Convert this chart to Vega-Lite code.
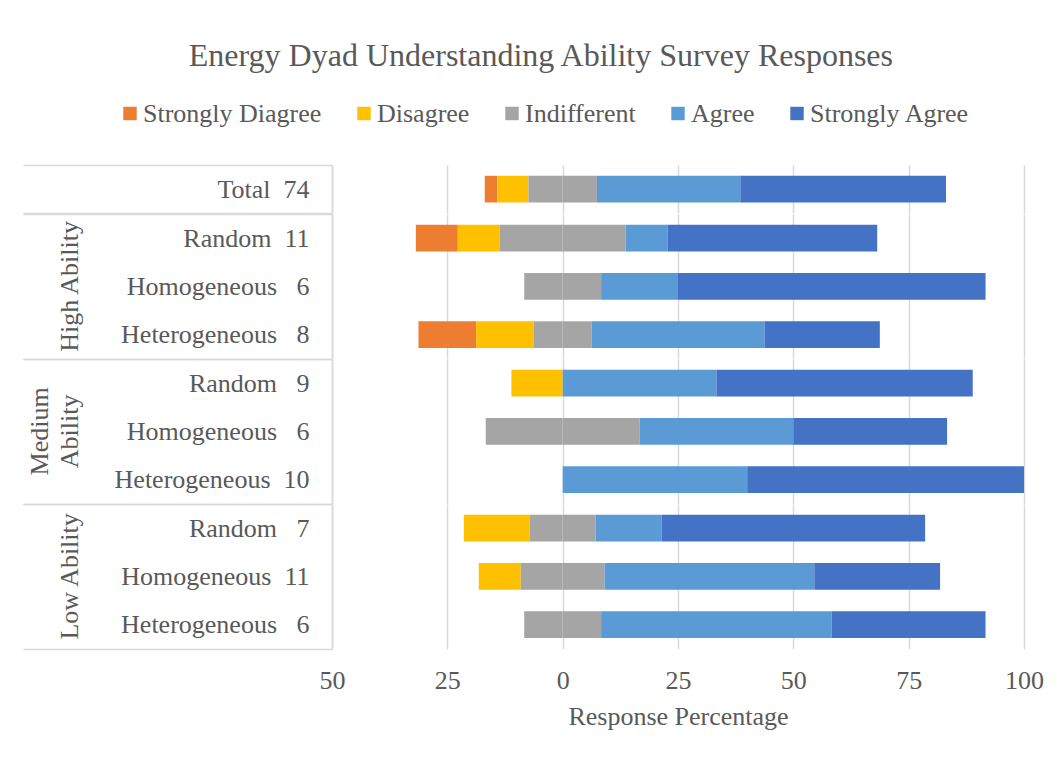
{
  "$schema": "https://vega.github.io/schema/vega-lite/v6.json",
  "padding": {"left": 22, "top": 39, "right": 20, "bottom": 20},
  "bounds": "flush",
  "title": {"text": "Energy Dyad Understanding Ability Survey Responses", "font": "Liberation Serif", "fontSize": 32, "fontWeight": "normal", "color": "#595959", "anchor": "middle", "frame": "bounds", "offset": 28, "dx": 8},
  "data": {"values": [
    {"group": "Total", "label": "Total\u00a0\u00a074", "rank": 1, "response": "Strongly Diagree", "pct": -2.70, "ord": 3},
    {"group": "Total", "label": "Total\u00a0\u00a074", "rank": 1, "response": "Disagree", "pct": -6.76, "ord": 2},
    {"group": "Total", "label": "Total\u00a0\u00a074", "rank": 1, "response": "Indifferent", "pct": -7.43, "ord": 1},
    {"group": "Total", "label": "Total\u00a0\u00a074", "rank": 1, "response": "Indifferent", "pct": 7.43, "ord": 1},
    {"group": "Total", "label": "Total\u00a0\u00a074", "rank": 1, "response": "Agree", "pct": 31.08, "ord": 2},
    {"group": "Total", "label": "Total\u00a0\u00a074", "rank": 1, "response": "Strongly Agree", "pct": 44.59, "ord": 3},

    {"group": "High Ability", "label": "Random\u00a0\u00a011", "rank": 1, "response": "Strongly Diagree", "pct": -9.09, "ord": 3},
    {"group": "High Ability", "label": "Random\u00a0\u00a011", "rank": 1, "response": "Disagree", "pct": -9.09, "ord": 2},
    {"group": "High Ability", "label": "Random\u00a0\u00a011", "rank": 1, "response": "Indifferent", "pct": -13.64, "ord": 1},
    {"group": "High Ability", "label": "Random\u00a0\u00a011", "rank": 1, "response": "Indifferent", "pct": 13.64, "ord": 1},
    {"group": "High Ability", "label": "Random\u00a0\u00a011", "rank": 1, "response": "Agree", "pct": 9.09, "ord": 2},
    {"group": "High Ability", "label": "Random\u00a0\u00a011", "rank": 1, "response": "Strongly Agree", "pct": 45.45, "ord": 3},
    {"group": "High Ability", "label": "Homogeneous\u00a0\u00a0\u00a06", "rank": 2, "response": "Indifferent", "pct": -8.33, "ord": 1},
    {"group": "High Ability", "label": "Homogeneous\u00a0\u00a0\u00a06", "rank": 2, "response": "Indifferent", "pct": 8.33, "ord": 1},
    {"group": "High Ability", "label": "Homogeneous\u00a0\u00a0\u00a06", "rank": 2, "response": "Agree", "pct": 16.67, "ord": 2},
    {"group": "High Ability", "label": "Homogeneous\u00a0\u00a0\u00a06", "rank": 2, "response": "Strongly Agree", "pct": 66.67, "ord": 3},
    {"group": "High Ability", "label": "Heterogeneous\u00a0\u00a0\u00a08", "rank": 3, "response": "Strongly Diagree", "pct": -12.5, "ord": 3},
    {"group": "High Ability", "label": "Heterogeneous\u00a0\u00a0\u00a08", "rank": 3, "response": "Disagree", "pct": -12.5, "ord": 2},
    {"group": "High Ability", "label": "Heterogeneous\u00a0\u00a0\u00a08", "rank": 3, "response": "Indifferent", "pct": -6.25, "ord": 1},
    {"group": "High Ability", "label": "Heterogeneous\u00a0\u00a0\u00a08", "rank": 3, "response": "Indifferent", "pct": 6.25, "ord": 1},
    {"group": "High Ability", "label": "Heterogeneous\u00a0\u00a0\u00a08", "rank": 3, "response": "Agree", "pct": 37.5, "ord": 2},
    {"group": "High Ability", "label": "Heterogeneous\u00a0\u00a0\u00a08", "rank": 3, "response": "Strongly Agree", "pct": 25.0, "ord": 3},

    {"group": "Medium Ability", "label": "Random\u00a0\u00a0\u00a09", "rank": 1, "response": "Disagree", "pct": -11.11, "ord": 2},
    {"group": "Medium Ability", "label": "Random\u00a0\u00a0\u00a09", "rank": 1, "response": "Agree", "pct": 33.33, "ord": 2},
    {"group": "Medium Ability", "label": "Random\u00a0\u00a0\u00a09", "rank": 1, "response": "Strongly Agree", "pct": 55.56, "ord": 3},
    {"group": "Medium Ability", "label": "Homogeneous\u00a0\u00a0\u00a06", "rank": 2, "response": "Indifferent", "pct": -16.67, "ord": 1},
    {"group": "Medium Ability", "label": "Homogeneous\u00a0\u00a0\u00a06", "rank": 2, "response": "Indifferent", "pct": 16.67, "ord": 1},
    {"group": "Medium Ability", "label": "Homogeneous\u00a0\u00a0\u00a06", "rank": 2, "response": "Agree", "pct": 33.33, "ord": 2},
    {"group": "Medium Ability", "label": "Homogeneous\u00a0\u00a0\u00a06", "rank": 2, "response": "Strongly Agree", "pct": 33.33, "ord": 3},
    {"group": "Medium Ability", "label": "Heterogeneous\u00a0\u00a010", "rank": 3, "response": "Agree", "pct": 40.0, "ord": 2},
    {"group": "Medium Ability", "label": "Heterogeneous\u00a0\u00a010", "rank": 3, "response": "Strongly Agree", "pct": 60.0, "ord": 3},

    {"group": "Low Ability", "label": "Random\u00a0\u00a0\u00a07", "rank": 1, "response": "Disagree", "pct": -14.29, "ord": 2},
    {"group": "Low Ability", "label": "Random\u00a0\u00a0\u00a07", "rank": 1, "response": "Indifferent", "pct": -7.14, "ord": 1},
    {"group": "Low Ability", "label": "Random\u00a0\u00a0\u00a07", "rank": 1, "response": "Indifferent", "pct": 7.14, "ord": 1},
    {"group": "Low Ability", "label": "Random\u00a0\u00a0\u00a07", "rank": 1, "response": "Agree", "pct": 14.29, "ord": 2},
    {"group": "Low Ability", "label": "Random\u00a0\u00a0\u00a07", "rank": 1, "response": "Strongly Agree", "pct": 57.14, "ord": 3},
    {"group": "Low Ability", "label": "Homogeneous\u00a0\u00a011", "rank": 2, "response": "Disagree", "pct": -9.09, "ord": 2},
    {"group": "Low Ability", "label": "Homogeneous\u00a0\u00a011", "rank": 2, "response": "Indifferent", "pct": -9.09, "ord": 1},
    {"group": "Low Ability", "label": "Homogeneous\u00a0\u00a011", "rank": 2, "response": "Indifferent", "pct": 9.09, "ord": 1},
    {"group": "Low Ability", "label": "Homogeneous\u00a0\u00a011", "rank": 2, "response": "Agree", "pct": 45.45, "ord": 2},
    {"group": "Low Ability", "label": "Homogeneous\u00a0\u00a011", "rank": 2, "response": "Strongly Agree", "pct": 27.27, "ord": 3},
    {"group": "Low Ability", "label": "Heterogeneous\u00a0\u00a0\u00a06", "rank": 3, "response": "Indifferent", "pct": -8.33, "ord": 1},
    {"group": "Low Ability", "label": "Heterogeneous\u00a0\u00a0\u00a06", "rank": 3, "response": "Indifferent", "pct": 8.33, "ord": 1},
    {"group": "Low Ability", "label": "Heterogeneous\u00a0\u00a0\u00a06", "rank": 3, "response": "Agree", "pct": 50.0, "ord": 2},
    {"group": "Low Ability", "label": "Heterogeneous\u00a0\u00a0\u00a06", "rank": 3, "response": "Strongly Agree", "pct": 33.33, "ord": 3}
  ]},
  "facet": {
    "row": {
      "field": "group", "type": "nominal",
      "sort": ["Total", "High Ability", "Medium Ability", "Low Ability"],
      "header": {
        "title": null,
        "labelExpr": "datum.value == 'Total' ? '' : (datum.value == 'Medium Ability' ? ['Medium', 'Ability'] : datum.value)",
        "labelAngle": -90,
        "labelOrient": "left",
        "labelPadding": 236,
        "labelFont": "Liberation Serif",
        "labelFontSize": 26,
        "labelColor": "#595959",
        "labelLineHeight": 30
      }
    }
  },
  "spacing": {"row": 0},
  "resolve": {"scale": {"y": "independent"}},
  "spec": {
    "width": 692,
    "height": {"step": 48.27},
    "mark": {"type": "bar", "height": {"band": 0.553}},
    "encoding": {
      "y": {
        "field": "label", "type": "nominal",
        "sort": {"field": "rank", "op": "min", "order": "ascending"},
        "scale": {"paddingInner": 0, "paddingOuter": 0},
        "axis": {
          "title": null,
          "domain": true, "domainColor": "#d9d9d9", "domainWidth": 1.5,
          "tickBand": "extent", "tickSize": 309, "tickColor": "#d9d9d9", "tickWidth": 1.5,
          "tickOpacity": {"condition": {"test": "datum.extra || test(/^(Total|Heterogeneous)/, datum.value)", "value": 1}, "value": 0},
          "labelPadding": -286, "labelLimit": 400,
          "labelFont": "Liberation Serif", "labelFontSize": 26, "labelColor": "#595959",
          "labelAlign": "right", "labelBaseline": "middle"
        }
      },
      "x": {
        "field": "pct", "type": "quantitative", "stack": "zero",
        "scale": {"domain": [-50, 100], "nice": false},
        "axis": {
          "title": "Response Percentage",
          "values": [-50, -25, 0, 25, 50, 75, 100],
          "labelExpr": "abs(datum.value)",
          "labelFlush": false,
          "domain": false, "ticks": false,
          "grid": true, "gridColor": "#d9d9d9", "gridWidth": 1.5,
          "labelPadding": 18,
          "labelFont": "Liberation Serif", "labelFontSize": 26, "labelColor": "#595959",
          "titleFont": "Liberation Serif", "titleFontSize": 26, "titleColor": "#595959", "titleFontWeight": "normal", "titlePadding": 10
        }
      },
      "order": {"field": "ord", "type": "quantitative"},
      "color": {
        "field": "response", "type": "nominal",
        "scale": {
          "domain": ["Strongly Diagree", "Disagree", "Indifferent", "Agree", "Strongly Agree"],
          "range": ["#ED7D31", "#FFC000", "#A5A5A5", "#5B9BD5", "#4472C4"]
        },
        "legend": {
          "title": null, "orient": "none", "direction": "horizontal",
          "legendX": -215, "legendY": -64.5,
          "symbolType": "square", "symbolSize": 180, "symbolStrokeWidth": 0,
          "labelFont": "Liberation Serif", "labelFontSize": 26, "labelColor": "#595959",
          "labelOffset": 0, "columnPadding": 29, "labelLimit": 400
        }
      }
    }
  },
  "config": {
    "view": {"stroke": null},
    "axis": {"gridColor": "#d9d9d9"}
  }
}
